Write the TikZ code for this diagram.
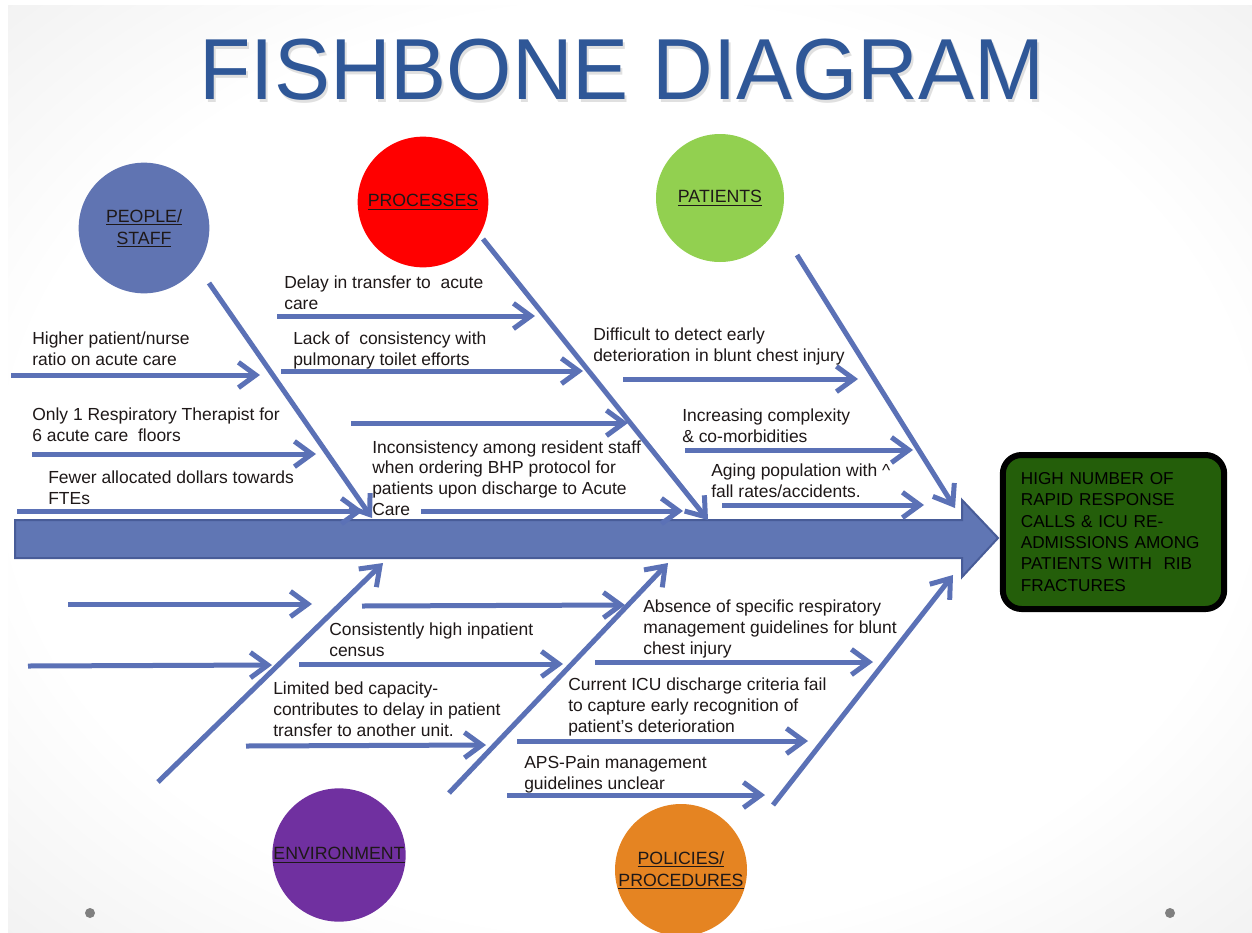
\documentclass[tikz,border=0pt]{standalone}
\usepackage{fontspec}
\setmainfont{Liberation Sans}
\usetikzlibrary{arrows.meta}

\definecolor{bonec}{RGB}{91,113,182}
\definecolor{spinec}{RGB}{96,118,180}
\definecolor{spineedge}{RGB}{72,92,152}
\definecolor{titlec}{RGB}{47,87,151}
\definecolor{txtc}{RGB}{30,24,24}
\definecolor{peoplec}{RGB}{96,116,178}
\definecolor{processc}{RGB}{255,0,0}
\definecolor{patientc}{RGB}{146,208,80}
\definecolor{envc}{RGB}{112,48,160}
\definecolor{policyc}{RGB}{229,132,34}
\definecolor{effectc}{RGB}{36,94,10}
\definecolor{dotc}{RGB}{128,128,128}

\pgfdeclareradialshading{slidebg}{\pgfpoint{0bp}{0bp}}{%
  color(0bp)=(white); color(25bp)=(white); color(50bp)=(black!12); color(71bp)=(black!23)}

\begin{document}
\begin{tikzpicture}[x=0.75pt,y=-0.75pt,
  bone/.style={draw=bonec, line width=3.75pt, -{Straight Barb[length=13pt,width=19pt]}},
  % anchored at the baseline of the last line
  lbl/.style={anchor=base west, inner sep=0pt, align=left, text=txtc,
    font=\fontsize{13.1pt}{15.5pt}\selectfont},
  cause/.style={circle, inner sep=0pt, align=center, text=txtc,
    font=\fontsize{13.3pt}{16.5pt}\selectfont},
  dotmark/.style={circle, fill=dotc, inner sep=0pt, minimum size=7.5pt}]

\useasboundingbox (0,0) rectangle (1252,932);
\fill[white] (0,0) rectangle (1252,932);
\shade[shading=slidebg] (8,5) rectangle (1252,932);

% title with its soft shadow
\node[anchor=base, text=black!40, opacity=0.3, font=\fontsize{65pt}{65pt}\selectfont]
  (titleshadow) at (624,102) {\scalebox{0.97}[1]{FISHBONE DIAGRAM}};
\node[anchor=base, text=titlec, font=\fontsize{65pt}{65pt}\selectfont]
  (title) at (622,99) {\scalebox{0.97}[1]{FISHBONE DIAGRAM}};

% spine
\fill[spinec, draw=spineedge, line width=1.5pt]
  (15,520) -- (962,520) -- (962,500) -- (998,538) -- (962,577) -- (962,558) -- (15,558) -- cycle;
\coordinate (head) at (998,538);

% effect
\node[draw=black, line width=4.5pt, fill=effectc, rounded corners=14pt,
  minimum width=166pt, minimum height=115.5pt, text width=139pt, align=left,
  inner sep=0pt, text=black, font=\fontsize{12.9pt}{16pt}\selectfont]
  (effect) at (1113.5,532)
  {HIGH NUMBER OF\\RAPID RESPONSE\\CALLS \& ICU RE-\\ADMISSIONS AMONG\\PATIENTS WITH\ \ RIB\\FRACTURES};

% category circles
\node[cause, fill=peoplec, minimum size=98pt] (people) at (144,228) {\underline{PEOPLE/}\\\underline{STAFF}};
\node[cause, fill=processc, minimum size=98pt] (processes) at (423,202) {\underline{PROCESSES}};
\node[cause, fill=patientc, minimum size=96pt] (patients) at (720,198) {\underline{PATIENTS}};
\node[cause, fill=envc, minimum size=100pt] (environment) at (339,855) {\underline{ENVIRONMENT}};
\node[cause, fill=policyc, minimum size=99pt] (policies) at (681,870) {\underline{POLICIES/}\\\underline{PROCEDURES}};

% bone end points
\coordinate (d1s) at (209,283); \coordinate (d1e) at (372,518);
\coordinate (d2s) at (483,239); \coordinate (d2e) at (708,520);
\coordinate (d3s) at (797,255); \coordinate (d3e) at (955,508);
\coordinate (d4s) at (158,782); \coordinate (d4e) at (383,563);
\coordinate (d5s) at (449,793); \coordinate (d5e) at (668,563);
\coordinate (d6s) at (773,805); \coordinate (d6e) at (953,575);

\coordinate (a1s) at (11,375);  \coordinate (a1e) at (260,375);
\coordinate (a2s) at (32,454);  \coordinate (a2e) at (316,454);
\coordinate (a3s) at (17,511);  \coordinate (a3e) at (363,511);
\coordinate (a4s) at (277,316); \coordinate (a4e) at (535,316);
\coordinate (a5s) at (281,371); \coordinate (a5e) at (583,371);
\coordinate (a6s) at (351,423); \coordinate (a6e) at (628,423);
\coordinate (a7s) at (421,511); \coordinate (a7e) at (683,511);
\coordinate (a8s) at (623,379); \coordinate (a8e) at (858,379);
\coordinate (a9s) at (685,450); \coordinate (a9e) at (913,450);
\coordinate (a10s) at (722,505); \coordinate (a10e) at (924,505);

\coordinate (b1s) at (68,604);  \coordinate (b1e) at (312,604);
\coordinate (b2s) at (28,666);  \coordinate (b2e) at (272,665);
\coordinate (b3s) at (362,606); \coordinate (b3e) at (625,605);
\coordinate (b4s) at (299,664); \coordinate (b4e) at (563,664);
\coordinate (b5s) at (246,746); \coordinate (b5e) at (486,745);
\coordinate (b6s) at (595,662); \coordinate (b6e) at (873,662);
\coordinate (b7s) at (517,741); \coordinate (b7e) at (808,741);
\coordinate (b8s) at (507,795); \coordinate (b8e) at (765,795);

% main bones
\foreach \b in {d1,d2,d3,d4,d5,d6}
  \draw[bone] (\b s) -- (\b e);
% contributing causes
\foreach \b in {a1,a2,a3,a4,a5,a6,a7,a8,a9,a10,b1,b2,b3,b4,b5,b6,b7,b8}
  \draw[bone] (\b s) -- (\b e);

% cause texts
\node[lbl] (t1) at (32,365) {Higher patient/nurse\\ratio on acute care};
\node[lbl] (t2) at (32,441) {Only 1 Respiratory Therapist for\\6 acute care\ \ floors};
\node[lbl] (t3) at (48,504) {Fewer allocated dollars towards\\FTEs};
\node[lbl] (t4) at (284,309) {Delay in transfer to\ \ acute\\care};
\node[lbl] (t5) at (293,365) {Lack of\ \ consistency with\\pulmonary toilet efforts};
\node[lbl] (t6) at (372,515) {Inconsistency among resident staff\\when ordering BHP protocol for\\patients upon discharge to Acute\\Care};
\node[lbl] (t7) at (593,361) {Difficult to detect early\\deterioration in blunt chest injury};
\node[lbl] (t8) at (682,442) {Increasing complexity\\\& co-morbidities};
\node[lbl] (t9) at (711,497) {Aging population with \textasciicircum\\fall rates/accidents.};
\node[lbl] (t10) at (329,656) {Consistently high inpatient\\census};
\node[lbl] (t11) at (273,736) {Limited bed capacity-\\contributes to delay in patient\\transfer to another unit.};
\node[lbl] (t12) at (643,654) {Absence of specific respiratory\\management guidelines for blunt\\chest injury};
\node[lbl] (t13) at (568,732) {Current ICU discharge criteria fail\\to capture early recognition of\\patient’s deterioration};
\node[lbl] (t14) at (524,789) {APS-Pain management\\guidelines unclear};

% slide markers
\node[dotmark] (dotl) at (90,913) {};
\node[dotmark] (dotr) at (1170,913) {};
\end{tikzpicture}
\end{document}
